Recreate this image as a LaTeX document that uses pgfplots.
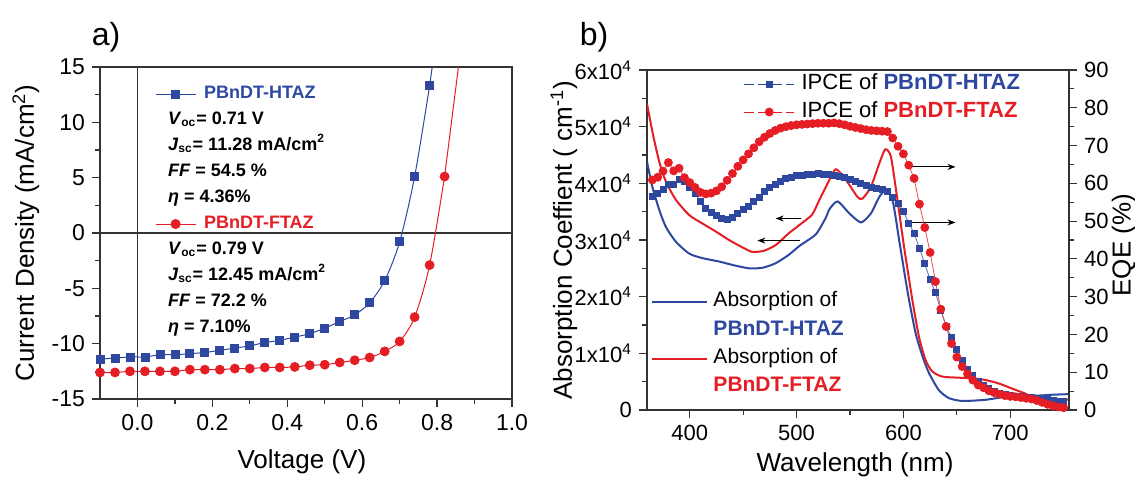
\documentclass[border=0pt]{standalone}
\usepackage{pgfplots}
\pgfplotsset{compat=1.18}
\usepackage{fontspec}
\setmainfont{Liberation Sans}
\usetikzlibrary{arrows.meta}
\definecolor{cblue}{RGB}{46,72,160}
\definecolor{cred}{RGB}{228,30,36}

\pgfplotstableread{
x y
-0.10 -11.4
-0.06 -11.3
-0.02 -11.2
0.02 -11.2
0.06 -11.0
0.10 -11.0
0.14 -10.9
0.18 -10.8
0.22 -10.6
0.26 -10.4
0.30 -10.2
0.34 -9.9
0.38 -9.7
0.42 -9.4
0.46 -9.1
0.50 -8.6
0.54 -8.0
0.58 -7.4
0.62 -6.3
0.66 -4.3
0.70 -0.8
0.74 5.1
0.78 13.3
}\jvH
\pgfplotstableread{
x y
-0.10 -12.6
-0.06 -12.6
-0.02 -12.5
0.02 -12.5
0.06 -12.5
0.10 -12.5
0.14 -12.35
0.18 -12.35
0.22 -12.35
0.26 -12.25
0.30 -12.25
0.34 -12.15
0.38 -12.15
0.42 -12.1
0.46 -11.95
0.50 -11.9
0.54 -11.7
0.58 -11.5
0.62 -11.25
0.66 -10.7
0.70 -9.8
0.74 -7.6
0.78 -2.9
0.82 5.1
}\jvF
\pgfplotstableread{
x y
360 4.38
365 3.94
371.5 3.53
377.7 3.23
387 2.97
399.5 2.76
412 2.68
427.5 2.62
440 2.56
455.5 2.50
468 2.51
480.4 2.59
492.8 2.74
503 2.90
518 3.10
527 3.38
531 3.55
538.5 3.68
549.4 3.47
560.3 3.31
569.6 3.47
577.4 3.76
583.6 3.88
589.8 3.71
596 3.00
602 2.30
605.3 1.94
611.5 1.35
618 0.94
624 0.65
633.2 0.35
642.6 0.21
655 0.16
676.7 0.18
698.4 0.24
721.6 0.25
740 0.27
755 0.28
}\absH
\pgfplotstableread{
x y
360 5.40
365.4 4.88
371.5 4.38
377.7 4.03
387 3.71
399.5 3.44
412 3.29
424.4 3.15
436.8 3.00
449.3 2.87
458.6 2.79
469.4 2.81
480.4 2.91
492.8 3.12
503 3.27
514.6 3.45
521.4 3.71
530.7 4.06
536.9 4.25
546.2 4.06
557 3.76
561.7 3.73
569.6 3.94
577.4 4.35
583 4.60
588.3 4.47
594.4 3.71
600.6 2.88
608.4 1.94
614.6 1.29
620.8 0.88
627 0.68
636.3 0.59
651.8 0.57
664.2 0.56
676.7 0.53
689 0.47
701.5 0.38
714 0.29
721.6 0.23
740 0.20
755 0.18
}\absF
\pgfplotstableread{
x y
365 56.5
370 57.3
375 58.3
380 59.8
385 59.7
390 61.1
395 60.5
400 59.0
405 57.4
410 55.2
415 53.4
420 52.3
425 51.4
430 50.6
435 50.5
440 51.1
445 52.1
450 53.0
455 54.0
460 55.2
465 56.4
470 57.8
475 58.8
480 59.8
485 60.6
490 61.2
495 61.6
500 62.0
505 62.2
510 62.3
515 62.4
520 62.5
525 62.4
530 62.3
535 62.1
540 61.8
545 61.5
550 61.0
555 60.5
560 60.0
565 59.5
570 59.0
575 58.6
580 58.3
585 57.8
590 56.3
595 54.8
600 52.5
605 49.5
610 46.8
615 42.8
620 38.7
625 34.5
630 31.0
635 26.4
640 22.1
645 19.3
650 16.1
655 13.2
660 10.8
665 9.2
670 7.6
675 6.5
680 5.6
685 5.0
690 4.5
695 4.1
700 3.8
705 3.6
710 3.5
715 3.4
720 3.3
725 3.2
730 3.0
735 2.8
740 2.6
745 2.4
750 2.2
}\ipceH
\pgfplotstableread{
x y
365 60.9
370 61.6
375 63.2
380 65.5
385 63.3
390 64.0
395 61.5
400 60.2
405 58.9
410 57.6
415 57.2
420 57.4
425 58.0
430 59.1
435 60.8
440 62.6
445 64.5
450 66.2
455 67.8
460 69.4
465 71.0
470 72.2
475 73.2
480 74.0
485 74.6
490 75.0
495 75.3
500 75.5
505 75.6
510 75.7
515 75.8
520 75.9
525 75.9
530 75.9
535 76.0
540 75.8
545 75.5
550 75.1
555 74.8
560 74.5
565 74.2
570 74.0
575 73.9
580 73.8
585 73.7
590 72.0
595 69.8
600 67.8
605 64.8
610 61.3
615 54.5
620 48.3
625 41.7
630 34.0
635 26.7
640 22.1
645 17.6
650 14.0
655 11.5
660 9.6
665 7.9
670 6.6
675 5.9
680 5.1
685 4.6
690 4.2
695 3.8
700 3.6
705 3.5
710 3.3
715 3.1
720 2.9
725 2.5
730 2.0
735 1.5
740 1.1
745 0.8
750 0.6
}\ipceF

\pgfplotsset{
  common/.style={
    scale only axis,
    tick align=outside,
    major tick length=4pt, minor tick length=2.5pt,
    tick style={black!80, line width=0.6pt},
    axis line style={black!80, line width=0.7pt},
    tick label style={font=\fontsize{11.5}{13}\selectfont},
    label style={font=\fontsize{13}{15}\selectfont},
    legend cell align=left,
  }
}

\begin{document}
\begin{tikzpicture}[x=1pt,y=1pt]
\useasboundingbox (0,0) rectangle (567.5,238.5);
\node[font=\fontsize{16}{18}\selectfont] at (53,220) {a)};
\node[font=\fontsize{16}{18}\selectfont] at (297,220) {b)};

% ---------------- panel a ----------------
\begin{axis}[common,
  at={(50pt,39pt)}, anchor=south west,
  width=206pt, height=166pt,
  xmin=-0.1, xmax=1.0, ymin=-15, ymax=15,
  xtick={0,0.2,0.4,0.6,0.8,1.0}, xticklabels={0.0,0.2,0.4,0.6,0.8,1.0},
  ytick={-15,-10,-5,0,5,10,15}, yticklabels={-15,-10,-5,0,5,10,15},
  minor x tick num=1, minor y tick num=1,
  tick pos=left,
  xlabel={Voltage (V)}, ylabel={Current Density (mA/cm\textsuperscript{2})},
  xlabel style={at={(axis description cs:0.49,-0.19)}, anchor=center},
  ylabel style={at={(axis description cs:-0.18,0.5)}, anchor=center},
  legend style={at={(axis cs:0.047,13.46)}, anchor=north west, draw=none, fill=none,
    inner sep=0pt, outer sep=0pt, row sep=3pt,
    font=\fontsize{9}{10}\selectfont\bfseries,
    nodes={inner sep=0pt, text height=7pt, text depth=3pt},
    /tikz/every odd column/.append style={column sep=4pt}},
  legend image code/.code={\draw[mark repeat=2,mark phase=2] plot coordinates {(0pt,0pt) (10pt,0pt) (20pt,0pt)};},
]
\draw[black!80, line width=0.6pt] (axis cs:0,-15) -- (axis cs:0,15);
\draw[black!80, line width=0.6pt] (axis cs:-0.1,0) -- (axis cs:1.0,0);
\addplot[cblue, line width=0.5pt, smooth, forget plot] table {\jvH};
\addplot[cblue, line width=0.5pt, forget plot] coordinates {(0.78,13.3) (0.787,15) (0.79,16)};
\addplot[cblue, only marks, mark=square*, mark size=2pt, forget plot] table {\jvH};
\addplot[cred, line width=0.5pt, smooth, forget plot] table {\jvF};
\addplot[cred, line width=0.5pt, forget plot] coordinates {(0.82,5.1) (0.857,15) (0.86,16)};
\addplot[cred, only marks, mark=*, mark size=2.25pt, forget plot] table {\jvF};

\addlegendimage{cblue, line width=0.5pt, mark=square*, mark size=2pt}
\addlegendentry{\textcolor{cblue}{PBnDT-HTAZ}}
\addlegendimage{empty legend}
\addlegendentry{\hspace*{-18pt}\textit{V}\textsubscript{oc}= 0.71 V}
\addlegendimage{empty legend}
\addlegendentry{\hspace*{-18pt}\textit{J}\textsubscript{sc}= 11.28 mA/cm\textsuperscript{2}}
\addlegendimage{empty legend}
\addlegendentry{\hspace*{-18pt}\textit{FF} = 54.5 \%}
\addlegendimage{empty legend}
\addlegendentry{\hspace*{-18pt}\textit{η} = 4.36\%}
\addlegendimage{cred, line width=0.5pt, mark=*, mark size=2.25pt}
\addlegendentry{\textcolor{cred}{PBnDT-FTAZ}}
\addlegendimage{empty legend}
\addlegendentry{\hspace*{-18pt}\textit{V}\textsubscript{oc}= 0.79 V}
\addlegendimage{empty legend}
\addlegendentry{\hspace*{-18pt}\textit{J}\textsubscript{sc}= 12.45 mA/cm\textsuperscript{2}}
\addlegendimage{empty legend}
\addlegendentry{\hspace*{-18pt}\textit{FF} = 72.2 \%}
\addlegendimage{empty legend}
\addlegendentry{\hspace*{-18pt}\textit{η} = 7.10\%}
\end{axis}

% ---------------- panel b, left axis ----------------
\begin{axis}[common,
  at={(323.5pt,33.5pt)}, anchor=south west,
  width=211pt, height=170pt,
  xmin=360, xmax=755, ymin=0, ymax=6,
  axis y line*=left,
  tick label style={font=\fontsize{11}{13}\selectfont},
  xtick={400,500,600,700}, xticklabels={400,500,600,700},
  minor x tick num=1, xtick pos=left,
  ytick={0,1,2,3,4,5,6},
  yticklabels={0,1x10\textsuperscript{4},2x10\textsuperscript{4},3x10\textsuperscript{4},4x10\textsuperscript{4},5x10\textsuperscript{4},6x10\textsuperscript{4}},
  minor y tick num=1,
  xlabel={Wavelength (nm)}, ylabel={Absorption Coeffient ( cm\textsuperscript{-1})},
  xlabel style={at={(axis description cs:0.493,-0.162)}, anchor=center},
  ylabel style={at={(axis description cs:-0.197,0.5)}, anchor=center},
  legend style={at={(axis cs:364.2,2.105)}, anchor=north west, draw=none, fill=none,
    inner sep=0pt, outer sep=0pt, row sep=3.2pt,
    font=\fontsize{10.5}{12}\selectfont,
    nodes={inner sep=0pt, text height=8pt, text depth=3pt},
    /tikz/every odd column/.append style={column sep=2.5pt}},
  legend image code/.code={\draw[mark repeat=2,mark phase=2] plot coordinates {(0pt,0pt) (13.75pt,0pt) (27.5pt,0pt)};},
]
\addplot[cblue, line width=1pt, smooth, tension=0.4, forget plot] table {\absH};
\addplot[cred, line width=1pt, smooth, tension=0.4, forget plot] table {\absF};
\draw[-{Stealth[length=4pt,width=3pt]}, line width=0.5pt] (axis cs:504.5,3.38) -- (axis cs:480.4,3.38);
\draw[-{Stealth[length=4pt,width=3pt]}, line width=0.5pt] (axis cs:503,2.99) -- (axis cs:463.3,2.99);
\draw[-{Stealth[length=4pt,width=3pt]}, line width=0.5pt] (axis cs:608.4,4.29) -- (axis cs:648.8,4.29);
\draw[-{Stealth[length=4pt,width=3pt]}, line width=0.5pt] (axis cs:606.9,3.31) -- (axis cs:648.8,3.31);
\addlegendimage{cblue, line width=1pt}
\addlegendentry{Absorption of}
\addlegendimage{empty legend}
\addlegendentry{\textcolor{cblue}{\bfseries PBnDT-HTAZ}}
\addlegendimage{cred, line width=1pt}
\addlegendentry{Absorption of}
\addlegendimage{empty legend}
\addlegendentry{\textcolor{cred}{\bfseries PBnDT-FTAZ}}
\end{axis}

% ---------------- panel b, right axis ----------------
\begin{axis}[common,
  at={(323.5pt,33.5pt)}, anchor=south west,
  width=211pt, height=170pt,
  xmin=360, xmax=755, ymin=0, ymax=90,
  axis y line*=right, axis x line=none,
  tick label style={font=\fontsize{11}{13}\selectfont},
  ytick={0,10,20,30,40,50,60,70,80,90},
  yticklabels={0,10,20,30,40,50,60,70,80,90},
  minor y tick num=1,
  ylabel={EQE (\%)},
  ylabel style={at={(axis description cs:1.13,0.485)}, anchor=center},
  legend style={at={(axis cs:450.6,89.2)}, anchor=north west, draw=none, fill=none,
    inner sep=0pt, outer sep=0pt, row sep=3pt,
    font=\fontsize{11}{12}\selectfont,
    nodes={inner sep=0pt, text height=8pt, text depth=3pt},
    /tikz/every odd column/.append style={column sep=3.5pt}},
  legend image code/.code={\draw[mark repeat=2,mark phase=2] plot coordinates {(0pt,0pt) (12.5pt,0pt) (25pt,0pt)};},
]
\addplot[cblue!80, line width=0.4pt, forget plot] table {\ipceH};
\addplot[cblue, only marks, mark=square*, mark size=1.5pt, forget plot] table {\ipceH};
\addplot[cred!80, line width=0.4pt, forget plot] table {\ipceF};
\addplot[cred, only marks, mark=*, mark size=2pt, forget plot] table {\ipceF};
\addlegendimage{cblue, line width=0.4pt, dash pattern=on 5pt off 2pt, mark=square*, mark size=1.5pt, mark options={solid}}
\addlegendentry{IPCE of \textcolor{cblue}{\bfseries PBnDT-HTAZ}}
\addlegendimage{cred, line width=0.4pt, dash pattern=on 5pt off 2pt, mark=*, mark size=2pt, mark options={solid}}
\addlegendentry{IPCE of \textcolor{cred}{\bfseries PBnDT-FTAZ}}
\end{axis}
\end{tikzpicture}
\end{document}
